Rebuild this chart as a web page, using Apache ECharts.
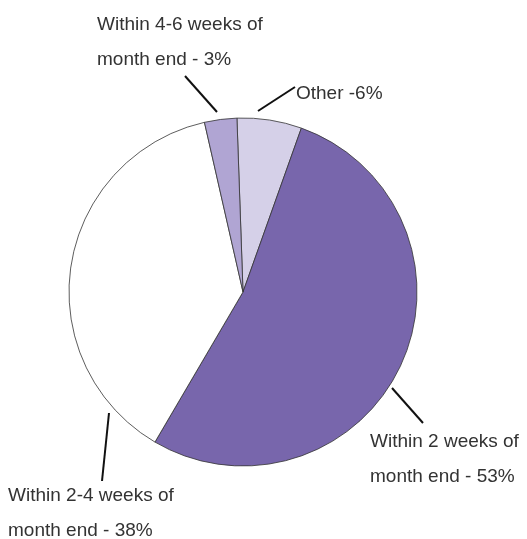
<!DOCTYPE html>
<html>
<head>
<meta charset="utf-8">
<style>
  html, body { margin: 0; padding: 0; background: #ffffff; }
  #chart { width: 527px; height: 539px; }
</style>
<script src="https://cdn.jsdelivr.net/npm/echarts@6/dist/echarts.min.js"></script>
</head>
<body>
<div id="chart"></div>
<script>
// ---- data ----
var categories = ['Other', 'Within 2 weeks of month end', 'Within 2-4 weeks of month end', 'Within 4-6 weeks of month end'];
var values = [6, 53, 38, 3];
var labelTexts = ['Other -6%', 'Within 2 weeks of\nmonth end - 53%', 'Within 2-4 weeks of\nmonth end - 38%', 'Within 4-6 weeks of\nmonth end - 3%'];

// ---- styling / layout (not data) ----
var colors = ['#D5D0E8', '#7866AC', '#FFFFFF', '#B0A5D3'];
var labelBoxes = [           // top-left of each label block
  { x: 296, y: 76 },
  { x: 370, y: 424 },
  { x: 8, y: 478 },
  { x: 97, y: 7 }
];
var leaderLines = [          // leader line end points
  [[258, 111], [295, 87]],
  [[392, 388], [423, 423]],
  [[109, 413], [102, 481]],
  [[217, 112], [185, 76]]
];

var chart = echarts.init(document.getElementById('chart'), null, { renderer: 'canvas' });
var seriesData = categories.map(function (c, i) {
  return { name: c, value: values[i], itemStyle: { color: colors[i] } };
});

chart.setOption({
  animation: false,
  backgroundColor: '#ffffff',
  series: [{
    type: 'pie',
    center: [243, 292],
    radius: [0, 174],
    startAngle: 92,
    clockwise: true,
    avoidLabelOverlap: false,
    itemStyle: { borderColor: '#333333', borderWidth: 0.8 },
    emphasis: { disabled: true },
    label: {
      show: true,
      position: 'outside',
      formatter: function (p) { return labelTexts[p.dataIndex]; },
      fontFamily: 'Liberation Sans, Arial, sans-serif',
      fontSize: 19,
      lineHeight: 35,
      color: '#333333',
      align: 'left'
    },
    labelLine: {
      show: true,
      lineStyle: { color: '#111111', width: 2 }
    },
    labelLayout: function (params) {
      var i = params.dataIndex;
      var l = leaderLines[i];
      return {
        x: labelBoxes[i].x,
        y: labelBoxes[i].y,
        align: 'left',
        verticalAlign: 'top',
        labelLinePoints: [l[0], l[0], l[1]]
      };
    },
    data: seriesData
  }]
});
</script>
</body>
</html>
